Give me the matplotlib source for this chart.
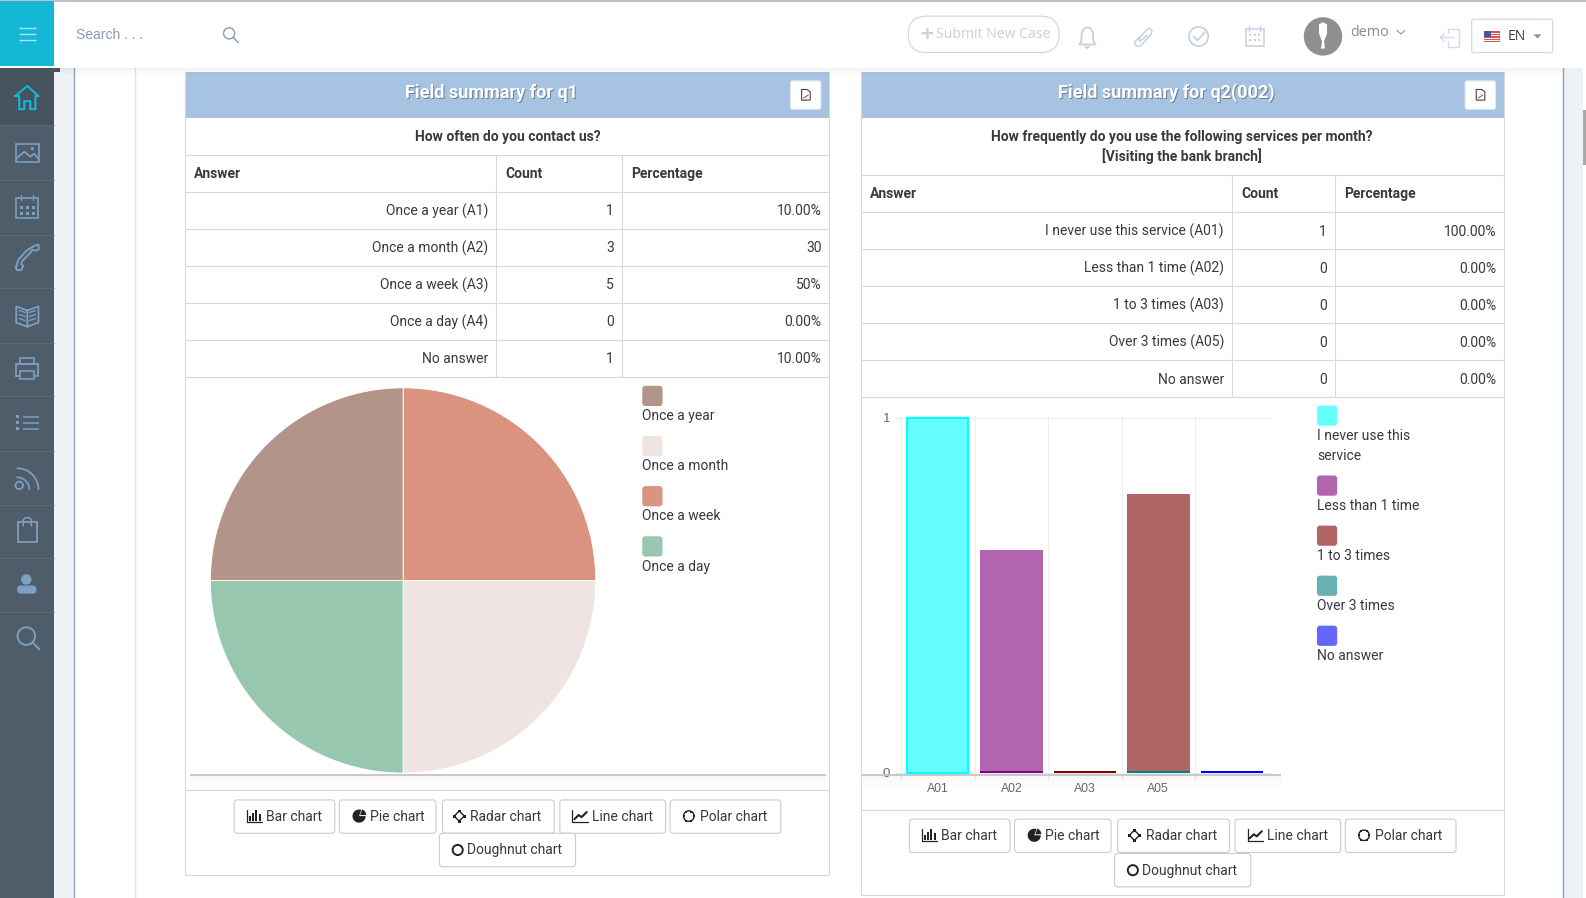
import numpy as np
import matplotlib
matplotlib.use('Agg')
from matplotlib import pyplot as plt
from matplotlib import patches

W, H = 1568, 888  # layout units, a bit smaller than the real pixels

q1_question = 'How often do you contact us?'
q1_answers = ['Once a year (A1)', 'Once a month (A2)', 'Once a week (A3)', 'Once a day (A4)', 'No answer']
q1_counts = ['1', '3', '5', '0', '1']
q1_percent = ['10.00%', '30', '50%', '0.00%', '10.00%']
q1_legend = ['Once a year', 'Once a month', 'Once a week', 'Once a day']
q1_legend_colors = ['#b29488', '#f0e4e2', '#d9937f', '#98c7b0']
pie_sizes = [25, 25, 25, 25]
pie_colors = ['#d9937f', '#f0e4e2', '#98c7b0', '#b29488']

q2_question = ['How frequently do you use the following services per month?', '[Visiting the bank branch]']
q2_answers = ['I never use this service (A01)', 'Less than 1 time (A02)', '1 to 3 times (A03)', 'Over 3 times (A05)', 'No answer']
q2_counts = ['1', '0', '0', '0', '0']
q2_percent = ['100.00%', '0.00%', '0.00%', '0.00%', '0.00%']
q2_legend = [['I never use this', 'service'], ['Less than 1 time'], ['1 to 3 times'], ['Over 3 times'], ['No answer']]
q2_legend_colors = ['#66ffff', '#b065ae', '#b06666', '#66b2b2', '#6666ff']
bar_labels = ['A01', 'A02', 'A03', 'A05', '']
bar_values = [1, 0.627, 0, 0.785, 0]
bar_fills = ['#66ffff', '#b065ae', '#b06666', '#b06666', '#6666ff']
bar_edges = ['#00ffff', '#800080', '#800000', '#008080', '#0000ff']

button_labels = ['Bar chart', 'Pie chart', 'Radar chart', 'Line chart', 'Polar chart', 'Doughnut chart']

INK = '#343a40'
LINE = '#d8d8d8'
ICON = '#7ba0c0'
TOPICON = '#c5d0e0'

fig = plt.figure(figsize=(15.86, 8.98), dpi=100, facecolor='white')


def overlay(z):
    a = fig.add_axes([0, 0, 1, 1], zorder=z)
    a.set_xlim(0, W)
    a.set_ylim(H, 0)
    a.axis('off')
    a.patch.set_alpha(0)
    return a


def axes_at(x0, y0, x1, y1, z=1):
    return fig.add_axes([x0 / W, 1 - y1 / H, (x1 - x0) / W, (y1 - y0) / H], zorder=z)


ui = overlay(0)
top = overlay(5)


def rect(a, x0, y0, x1, y1, color, z=1, **kw):
    a.add_patch(patches.Rectangle((x0, y0), x1 - x0, y1 - y0, facecolor=color, edgecolor='none', zorder=z, **kw))


def rbox(a, x0, y0, x1, y1, r, fc='white', ec=LINE, lw=0.8, z=3):
    a.add_patch(patches.FancyBboxPatch((x0 + r, y0 + r), x1 - x0 - 2 * r, y1 - y0 - 2 * r,
                                       boxstyle=f'round,pad={r},rounding_size={r}',
                                       fc=fc, ec=ec, lw=lw, zorder=z))


def hline(a, x0, x1, y, color=LINE, lw=0.8, z=2):
    y = y - 0.7
    a.plot([x0 - 0.7, x1 - 0.7], [y, y], color=color, lw=lw, zorder=z, solid_capstyle='butt')


def vline(a, x, y0, y1, color=LINE, lw=0.8, z=2):
    x = x - 0.7
    a.plot([x, x], [y0 - 0.7, y1 - 0.7], color=color, lw=lw, zorder=z, solid_capstyle='butt')


def txt(a, x, y, s, size=10, color=INK, ha='left', weight='normal', family='Roboto', z=6):
    return a.text(x, y, s, fontsize=size, color=color, ha=ha, va='center', fontweight=weight,
                  family=family, zorder=z)


def stroke(a, xs, ys, color=ICON, lw=1.3, z=7, closed=False):
    if closed:
        xs = list(xs) + [xs[0]]
        ys = list(ys) + [ys[0]]
    a.plot(xs, ys, color=color, lw=lw, zorder=z, solid_capstyle='round', solid_joinstyle='round')


# page background
rect(ui, 53, 66, 74, H, '#eef1f6')
vline(ui, 74, 66, H + 2, '#8ea4c4', 1.0)
vline(ui, 134, 66, H + 2, '#e2e2e2', 1.0)
rect(ui, 1545, 66, 1565, H, '#eef1f6')
vline(ui, 1545.5, 66, H + 2, '#8ea4c4', 1.0)
rect(ui, 1565.5, 109, W, 163, '#a8a8a8')

# left sidebar
rect(ui, 0, 66, 53.5, H, '#4f5c6a')
rect(ui, 0, 71, 53.5, 124, '#46525e')
rect(ui, 0, 66, 59, 71, '#47535f', z=2)
for row_y in [124, 178, 232, 285, 339, 392, 446, 499, 552, 605]:
    hline(ui, 0, 54, row_y + 0.7, '#5b6977', 0.8)

# top bar
rect(ui, 0, 1, 1565, 67.5, 'white', z=3)
hline(ui, 0, W + 1, 1.2, '#b5b5b5', 1.2, z=4)
rect(ui, 0, 1, 53.5, 65, '#14b7d6', z=4)
for sy in [28, 34, 40]:
    hline(ui, 19, 36, sy, '#a8e6f2', 1.0, z=5)
for i in range(6):
    rect(ui, 59, 67.5 + i, 1545, 68.5 + i, '#000000', z=2, alpha=0.05 - i * 0.008)
txt(ui, 75, 35, 'Search . . .', 10, '#8a99ad', family='Liberation Sans')
ui.add_patch(patches.Circle((226.5, 33), 5.5, fc='none', ec='#8a99ad', lw=1.0, zorder=7))
stroke(ui, [230.5, 235.5], [37, 42], '#8a99ad', 1.0)
rbox(ui, 898, 16, 1047, 52, 18, ec='#d5d8de', lw=0.9)
txt(ui, 909, 34, '+', 13, TOPICON, weight='bold', family='DejaVu Sans')
txt(ui, 925, 34.5, 'Submit New Case', 10.1, TOPICON, family='Open Sans')

# bell, clip, check, calendar in the top bar
bell_x = [1069, 1069.5, 1072, 1075, 1078, 1080.5, 1081, 1083, 1067, 1069]
bell_y = [41, 32, 28, 27, 28, 32, 41, 44, 44, 41]
stroke(ui, bell_x, bell_y, TOPICON)
stroke(ui, [1073, 1075, 1077], [46, 47.5, 46], TOPICON)
stroke(ui, [1129, 1122, 1122, 1125, 1128, 1138, 1139, 1137, 1134, 1127, 1126, 1127, 1134],
       [35, 41, 44, 46, 45, 34, 30, 28, 29, 37, 39, 41, 35], TOPICON, 1.1)
ui.add_patch(patches.Circle((1185, 36), 9.5, fc='none', ec=TOPICON, lw=1.2, zorder=7))
stroke(ui, [1180, 1184, 1191], [36, 40, 32], TOPICON)
ui.add_patch(patches.Rectangle((1231.5, 29), 18, 16, fc='none', ec=TOPICON, lw=1.1, zorder=7))
stroke(ui, [1235, 1235], [26, 31], TOPICON, 1.0)
stroke(ui, [1246, 1246], [26, 31], TOPICON, 1.0)
for dx in [1236, 1240.5, 1245]:
    for dy in [35, 39.5]:
        rect(ui, dx - 1, dy - 1, dx + 1, dy + 1, TOPICON, z=7)

# avatar
ui.add_patch(patches.Circle((1308, 36), 19, fc='#8f8f8f', ec='none', zorder=6))
ui.add_patch(patches.Polygon([(1304, 24), (1308, 22), (1312, 24), (1312, 33), (1309, 41), (1310, 48),
                              (1306, 48), (1307, 41), (1304, 33)], fc='white', ec='none', zorder=7))
txt(ui, 1335, 32.5, 'demo', 10.4, '#7f8fa3', family='Open Sans')
stroke(ui, [1381, 1385, 1389], [30, 33.5, 30], '#8a99ad', 0.8)
stroke(ui, [1432, 1442, 1442, 1432, 1432], [29, 29, 46, 46, 41], '#d3dbe6', 1.0)
stroke(ui, [1432, 1432], [29, 33], '#d3dbe6', 1.0)
stroke(ui, [1424, 1437], [37, 37], '#d3dbe6', 1.0)
stroke(ui, [1428, 1424, 1428], [33, 37, 41], '#d3dbe6', 1.0)
rbox(ui, 1455, 19, 1535, 52, 2, ec='#d5d8de', lw=0.9)
rect(ui, 1467, 31, 1483, 42, '#d9534f', z=7)
for sy in [33, 35.5, 38, 40.5]:
    hline(ui, 1467, 1483, sy, 'white', 0.7, z=8)
rect(ui, 1467, 31, 1474, 37, '#3b5aa6', z=9)
txt(ui, 1491, 36, 'EN', 10, INK, family='Open Sans')
ui.add_patch(patches.Polygon([(1516, 34), (1524, 34), (1520, 38)], fc='#8a8f96', ec='none', zorder=7))

# sidebar icons
home_x = [15, 27, 38, 35, 35, 30, 30, 24, 24, 19, 19, 15]
home_y = [95, 85, 95, 95, 108, 108, 100, 100, 108, 108, 95, 95]
stroke(ui, home_x, home_y, '#14b7d6', 1.5)
ui.add_patch(patches.Rectangle((15.5, 142), 23, 18, fc='none', ec=ICON, lw=1.2, zorder=7))
stroke(ui, [16, 24, 30, 34, 38], [157, 150, 155, 152, 157])
ui.add_patch(patches.Circle((32, 147), 1.6, fc=ICON, ec='none', zorder=7))
ui.add_patch(patches.Rectangle((16, 196), 22, 20, fc='none', ec=ICON, lw=1.2, zorder=7))
for cx in [21, 27, 33]:
    if cx != 27:
        stroke(ui, [cx, cx], [193, 198], ICON, 1.0)
    for cy in [205, 211]:
        rect(ui, cx - 1.5, cy - 1.5, cx + 1.5, cy + 1.5, ICON, z=7)
phone_x = [16, 18, 26, 34, 38, 38.5, 36, 32, 30, 22, 21, 23, 21, 17, 15.5, 16]
phone_y = [264, 257, 248, 243, 242, 246, 248, 247, 250, 258, 261, 263, 267, 267, 265, 264]
stroke(ui, phone_x, phone_y, ICON, 1.4)
stroke(ui, [27, 16, 16, 27, 38, 38, 27, 27], [323, 319, 303, 307, 303, 319, 323, 307])
for ly in [309, 313, 317]:
    stroke(ui, [19, 25], [ly - 2, ly], ICON, 1.0)
    stroke(ui, [29, 35], [ly, ly - 2], ICON, 1.0)
ui.add_patch(patches.Rectangle((16, 360), 22, 12, fc='none', ec=ICON, lw=1.3, zorder=7))
ui.add_patch(patches.Rectangle((20, 354), 14, 6, fc='none', ec=ICON, lw=1.2, zorder=7))
ui.add_patch(patches.Rectangle((20, 367), 14, 8, fc='#4f5c6a', ec=ICON, lw=1.2, zorder=8))
for ly in [412, 418, 424]:
    rect(ui, 15.5, ly - 1.5, 19, ly + 1.5, ICON, z=7)
    hline(ui, 23, 39, ly + 0.7, ICON, 1.1, z=7)
ui.add_patch(patches.Circle((19, 480), 3.7, fc='none', ec=ICON, lw=1.3, zorder=7))
for r in [12, 21]:
    t = np.radians(np.arange(-90, 1, 5))
    stroke(ui, 17 + r * np.cos(t), 484 + r * np.sin(t))
ui.add_patch(patches.Rectangle((18, 516), 19, 20, fc='none', ec=ICON, lw=1.3, zorder=7))
stroke(ui, [23, 23, 25, 29, 31, 31], [520, 514, 512, 512, 514, 520], ICON, 1.1)
ui.add_patch(patches.Circle((26, 573), 5.2, fc=ICON, ec='none', zorder=7))
ui.add_patch(patches.FancyBboxPatch((19, 581), 15, 4, boxstyle='round,pad=2,rounding_size=3.5', fc=ICON, ec='none', zorder=7))
ui.add_patch(patches.Circle((26, 629), 8.7, fc='none', ec=ICON, lw=1.4, zorder=7))
stroke(ui, [32, 39], [635, 642], ICON, 1.4)


def pdf_button(x0, x1):
    rbox(ui, x0, 80, x1, 108, 2, ec='#e3e8ef')
    cx = (x0 + x1) / 2
    stroke(ui, [cx - 4, cx + 1.5, cx + 4.5, cx + 4.5, cx - 4, cx - 4], [88.5, 88.5, 91, 99, 99, 88.5], '#444444', 0.8)
    stroke(ui, [cx - 2, cx + 2.5], [97, 94], '#c0504d', 0.8)


def table(x0, x1, col1, col2, head_y, row_step, answers, counts, percents):
    txt(ui, x0 + 8.5, head_y + 18.5, 'Answer', 10, INK, weight='bold')
    txt(ui, col1 + 8.5, head_y + 18.5, 'Count', 10, INK, weight='bold')
    txt(ui, col2 + 8.5, head_y + 18.5, 'Percentage', 10, INK, weight='bold')
    y = head_y
    hline(ui, x0, x1, y)
    y += 37
    for answer, count, pct in zip(answers, counts, percents):
        hline(ui, x0, x1, y)
        txt(ui, col1 - 8.5, y + row_step / 2, answer, 10, INK, ha='right')
        txt(ui, col2 - 8.5, y + row_step / 2, count, 10, INK, ha='right')
        txt(ui, x1 - 8, y + row_step / 2, pct, 10, INK, ha='right')
        y += row_step
    hline(ui, x0, x1, y)
    vline(ui, col1, head_y, y)
    vline(ui, col2, head_y, y)


def panel(x0, x1, bottom, title, chart_rule_y):
    rect(ui, x0 - 0.5, 71, x1 - 0.5, 117, '#a6c3e1')
    vline(ui, x0, 71, bottom)
    vline(ui, x1, 71, bottom)
    hline(ui, x0, x1, bottom)
    cx = (x0 + x1) / 2 - 16
    txt(ui, cx + 0.8, 92.6, title, 13, '#6d7f92', ha='center', weight='bold', z=5)
    txt(ui, cx, 91.8, title, 13, 'white', ha='center', weight='bold')
    pdf_button(x1 - 39, x1 - 9)
    hline(ui, x0, x1, chart_rule_y)


def buttons(offset, y0, y1, y2):
    spans = [(231, 331), (335, 431), (437, 548), (553, 658), (662, 772)]
    text_x = [263, 366, 465, 585, 692]
    for label, (b0, b1), tx in zip(button_labels[:5], spans, text_x):
        rbox(ui, b0 + 0.5 + offset, y0, b1 + offset, y0 + 33, 3, ec='#cccccc')
        txt(ui, tx + offset, y0 + 16.5, label, 10, INK)
        icon_x = tx + offset - 11
        icon_y = y0 + 16
        if label == 'Bar chart':
            stroke(ui, [icon_x - 8, icon_x - 8, icon_x + 7], [icon_y - 6, icon_y + 6, icon_y + 6], '#222222', 0.9)
            for k, bh in enumerate([5, 8, 11, 7]):
                rect(ui, icon_x - 6 + k * 3.2, icon_y + 5 - bh, icon_x - 4 + k * 3.2, icon_y + 5, '#222222', z=7)
        elif label == 'Pie chart':
            ui.add_patch(patches.Wedge((icon_x, icon_y), 6.5, 0, 290, fc='#222222', ec='none', zorder=7))
            ui.add_patch(patches.Wedge((icon_x + 1, icon_y - 1), 6, 290, 360, fc='#222222', ec='none', zorder=7))
        elif label == 'Radar chart':
            ui.add_patch(patches.Polygon([(icon_x, icon_y - 5), (icon_x + 5, icon_y), (icon_x, icon_y + 5), (icon_x - 5, icon_y)],
                                         fc='none', ec='#222222', lw=1.0, zorder=7))
            for ddx, ddy in [(0, -5), (5, 0), (0, 5), (-5, 0)]:
                rect(ui, icon_x + ddx - 1.4, icon_y + ddy - 1.4, icon_x + ddx + 1.4, icon_y + ddy + 1.4, '#222222', z=7)
        elif label == 'Line chart':
            stroke(ui, [icon_x - 8, icon_x - 8, icon_x + 7], [icon_y - 6, icon_y + 6, icon_y + 6], '#222222', 0.9)
            stroke(ui, [icon_x - 6, icon_x - 2, icon_x + 1, icon_x + 6], [icon_y + 3, icon_y - 1, icon_y + 1, icon_y - 4], '#222222', 1.5)
        else:
            ui.add_patch(patches.Circle((icon_x, icon_y), 5.2, fc='none', ec='#222222', lw=1.0, zorder=7))
            for ang in np.radians(np.arange(0, 360, 60)):
                rect(ui, icon_x + 5.2 * np.cos(ang) - 1, icon_y + 5.2 * np.sin(ang) - 1,
                     icon_x + 5.2 * np.cos(ang) + 1, icon_y + 5.2 * np.sin(ang) + 1, '#222222', z=7)
    rbox(ui, 434.5 + offset, y1, 569 + offset, y2, 3, ec='#cccccc')
    txt(ui, 462 + offset, (y1 + y2) / 2 + 0.5, button_labels[5], 10, INK)
    ui.add_patch(patches.Circle((452.5 + offset, (y1 + y2) / 2), 5, fc='none', ec='#222222', lw=1.4, zorder=7))


def chart_rule(x0, x1, y):
    for i in range(12):
        rect(top, x0, y + i, x1, y + i + 1, '#000000', z=1, alpha=0.03 * (1 - i / 12))
    hline(top, x0, x1, y + 0.5, '#c4c4c4', 1.3, z=2)


# left panel
panel(183.5, 820.5, 865.5, 'Field summary for q1', 781.5)
txt(ui, 502, 135, q1_question, 10, INK, ha='center', weight='bold')
table(183.5, 820.5, 491.5, 615.5, 153.7, 36.6, q1_answers, q1_counts, q1_percent)
buttons(0, 791, 824, 857)
chart_rule(189, 817, 767)

pie_ax = axes_at(208, 383.5, 589, 764.5)
pie_ax.pie(pie_sizes, colors=pie_colors, startangle=90, counterclock=False, radius=1,
           wedgeprops={'edgecolor': 'white', 'linewidth': 0.6})
pie_ax.set_xlim(-1, 1)
pie_ax.set_ylim(-1, 1)
pie_ax.patch.set_alpha(0)

for i, (name, c) in enumerate(zip(q1_legend, q1_legend_colors)):
    sy = 381.5 + i * 49.6
    rbox(ui, 635, sy, 655, sy + 20, 3, fc=c, ec='none')
    txt(ui, 635, sy + 30, name, 10, INK)

# right panel
panel(851.5, 1487.5, 885.5, 'Field summary for q2(002)', 801.5)
for line_y, line in zip([135, 154.5], q2_question):
    txt(ui, 1168.5, line_y, line, 10, INK, ha='center', weight='bold')
table(851.5, 1487.5, 1218.5, 1320.5, 173.7, 36.6, q2_answers, q2_counts, q2_percent)
buttons(667.5, 810, 844, 877)
chart_rule(853, 1267, 767)

bar_ax = axes_at(891, 410, 1257, 767)
px = 351.0
bar_ax.set_xlim(-0.5, 4.54)
bar_ax.set_ylim(-3 / px, 1 + 3 / px)
xs = np.arange(len(bar_values))
bar_ax.bar(xs, bar_values, width=0.85, color=bar_fills, linewidth=0, zorder=3)
# the first series keeps its outline, the rest only show a strip on the base line
bar_ax.bar(xs[0], bar_values[0], width=0.83, color='none', edgecolor=bar_edges[0], linewidth=1.5, zorder=4)
bar_ax.bar(xs[1:], [0.004] * 4, width=0.85, color=bar_edges[1:], linewidth=0, zorder=4)
bar_ax.set_xticks(xs, bar_labels)
bar_ax.set_xticks(np.arange(-0.5, 4.5, 1), minor=True)
bar_ax.set_yticks([0, 1], ['0', '1'])
bar_ax.tick_params(axis='x', which='major', length=0, pad=5, labelsize=8.8, labelcolor='#666666')
bar_ax.tick_params(axis='x', which='minor', length=3, color='#e6e6e6', width=0.8)
bar_ax.tick_params(axis='y', length=4, color='#e6e6e6', width=0.8, pad=4, labelsize=9.5, labelcolor='#666666')
for label in bar_ax.get_xticklabels() + bar_ax.get_yticklabels():
    label.set_family('Liberation Sans')
bar_ax.grid(True, which='minor', axis='x', color='#eeeeee', lw=0.8, zorder=0)
bar_ax.grid(True, which='major', axis='y', color='#eeeeee', lw=0.8, zorder=0)
for side, spine in bar_ax.spines.items():
    spine.set_visible(False)
bar_ax.patch.set_alpha(0)

y_cursor = 401
for lines, c in zip(q2_legend, q2_legend_colors):
    rbox(ui, 1302, y_cursor, 1322, y_cursor + 20, 3, fc=c, ec='none')
    for j, line in enumerate(lines):
        txt(ui, 1302, y_cursor + 30 + j * 19.7, line, 10, INK)
    y_cursor += 49.5 + (len(lines) - 1) * 19.7

fig.savefig('out.png', dpi=100)
